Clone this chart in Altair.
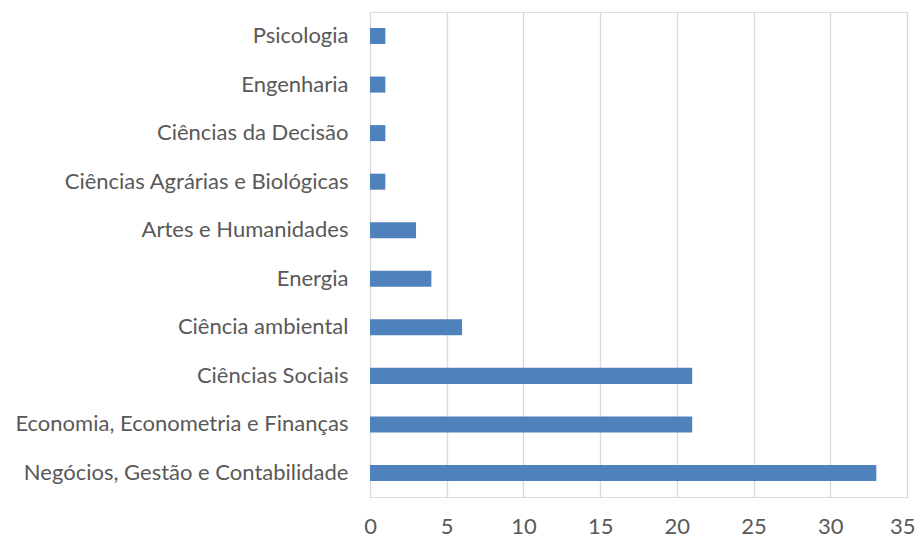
import altair as alt
import pandas as pd

categories = [
    "Psicologia",
    "Engenharia",
    "Ciências da Decisão",
    "Ciências Agrárias e Biológicas",
    "Artes e Humanidades",
    "Energia",
    "Ciência ambiental",
    "Ciências Sociais",
    "Economia, Econometria e Finanças",
    "Negócios, Gestão e Contabilidade",
]
values = [1, 1, 1, 1, 3, 4, 6, 21, 21, 33]
x_ticks = [0, 5, 10, 15, 20, 25, 30, 35]

df = pd.DataFrame({"area": categories, "n": values})

chart = (
    alt.Chart(df)
    .mark_bar(color="#4f81bd")
    .encode(
        x=alt.X(
            "n:Q",
            scale=alt.Scale(domain=[0, 35], nice=False),
            axis=alt.Axis(
                values=x_ticks,
                title=None,
                domain=False,
                ticks=False,
                grid=True,
                gridColor="#d9d9d9",
                gridWidth=1.3,
                labelFont="Lato",
                labelFontSize=22,
                labelColor="#595959",
                labelPadding=19,
                labelOverlap=False,
                labelFlush=False,
                labelAlign=alt.expr("datum.value == 35 ? 'right' : 'center'"),
                labelOffset=alt.expr("datum.value == 35 ? 8 : 0"),
            ),
        ),
        y=alt.Y(
            "area:N",
            sort=categories,
            scale=alt.Scale(paddingInner=0.67, paddingOuter=0.33),
            axis=alt.Axis(
                title=None,
                domain=False,
                ticks=False,
                labelFont="Lato",
                labelFontSize=22,
                labelColor="#595959",
                labelPadding=22,
                labelLimit=400,
            ),
        ),
    )
    .properties(
        width=537,
        height=485,
        autosize=alt.AutoSizeParams(type="none"),
        padding={"left": 362, "top": 4, "right": 8, "bottom": 40},
    )
    .configure_view(stroke=None)
    .configure(background="white")
)

chart.save("out.html", embed_options={"renderer": "svg", "actions": False})
